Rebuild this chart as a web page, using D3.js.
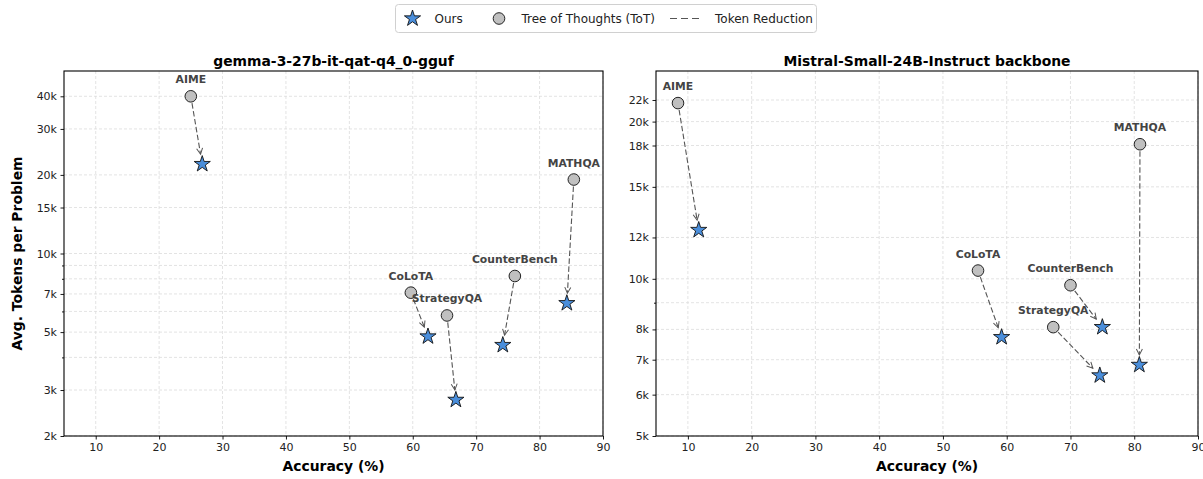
<!DOCTYPE html>
<html>
<head>
<meta charset="utf-8">
<script src="https://cdn.jsdelivr.net/npm/d3@7/dist/d3.min.js"></script>
<style>
  body { margin: 0; background: #fff; }
  svg { display: block; font-family: "DejaVu Sans", sans-serif; }
</style>
</head>
<body>
<svg id="chart" width="1203" height="479"></svg>
<script>
// ---------- Data ----------
const datasets = ["AIME", "MATHQA", "CounterBench", "CoLoTA", "StrategyQA"];

// gemma-3-27b-it-qat-q4_0-gguf
const gemmaTotAcc    = [25.0, 85.4, 76.1, 59.7, 65.4];
const gemmaTotTokens = [40000, 19200, 8200, 7080, 5790];
const gemmaOursAcc    = [26.8, 84.3, 74.2, 62.4, 66.8];
const gemmaOursTokens = [22000, 6450, 4460, 4810, 2750];

// Mistral-Small-24B-Instruct backbone
const mistralTotAcc    = [8.45, 80.9, 70.0, 55.5, 67.3];
const mistralTotTokens = [21700, 18100, 9720, 10370, 8080];
const mistralOursAcc    = [11.7, 80.8, 75.0, 59.2, 74.6];
const mistralOursTokens = [12400, 6840, 8080, 7730, 6530];

const xTicks = [10, 20, 30, 40, 50, 60, 70, 80, 90];
const gemmaYTicks = [2000, 3000, 5000, 7000, 10000, 15000, 20000, 30000, 40000];
const gemmaYMinor = [4000, 6000, 8000, 9000];
const gemmaYLabels = ["2k", "3k", "5k", "7k", "10k", "15k", "20k", "30k", "40k"];
const mistralYTicks = [5000, 6000, 7000, 8000, 10000, 12000, 15000, 18000, 20000, 22000];
const mistralYMinor = [9000];
const mistralYLabels = ["5k", "6k", "7k", "8k", "10k", "12k", "15k", "18k", "20k", "22k"];

const panels = [
  { title: "gemma-3-27b-it-qat-q4_0-gguf", x0: 64, x1: 603, yDomain: [2000, 50000],
    totAcc: gemmaTotAcc, totTok: gemmaTotTokens, oursAcc: gemmaOursAcc, oursTok: gemmaOursTokens,
    yTicks: gemmaYTicks, yMinor: gemmaYMinor, yLabels: gemmaYLabels, ylabel: true },
  { title: "Mistral-Small-24B-Instruct backbone", x0: 656, x1: 1198, yDomain: [5000, 25000],
    totAcc: mistralTotAcc, totTok: mistralTotTokens, oursAcc: mistralOursAcc, oursTok: mistralOursTokens,
    yTicks: mistralYTicks, yMinor: mistralYMinor, yLabels: mistralYLabels, ylabel: false }
];

// ---------- Style ----------
const plotTop = 71, plotBottom = 436;
const starFill = "#4a8edb";
const circleFill = "#c0c0c0";
const arrowColor = "#555";

const svg = d3.select("#chart");

function starPath(R) {
  const r = R * 0.382;
  const pts = [];
  for (let i = 0; i < 10; i++) {
    const a = -Math.PI / 2 + i * Math.PI / 5;
    const rad = i % 2 === 0 ? R : r;
    pts.push([rad * Math.cos(a), rad * Math.sin(a)]);
  }
  return "M" + pts.map(p => p[0].toFixed(2) + "," + p[1].toFixed(2)).join("L") + "Z";
}

const defs = svg.append("defs");
defs.append("marker")
  .attr("id", "arrowhead")
  .attr("viewBox", "-10 -6 12 12")
  .attr("refX", 0).attr("refY", 0)
  .attr("markerWidth", 12).attr("markerHeight", 12)
  .attr("markerUnits", "userSpaceOnUse")
  .attr("orient", "auto")
  .append("path")
  .attr("d", "M-6,-3L0,0L-6,3")
  .attr("fill", "none")
  .attr("stroke", arrowColor)
  .attr("stroke-width", 1);

panels.forEach(p => {
  const x = d3.scaleLinear().domain([5, 90]).range([p.x0, p.x1]);
  const y = d3.scaleLog().domain(p.yDomain).range([plotBottom, plotTop]);
  const g = svg.append("g");

  // grid
  g.append("g").selectAll("line").data(xTicks).join("line")
    .attr("x1", d => x(d)).attr("x2", d => x(d)).attr("y1", plotTop).attr("y2", plotBottom)
    .attr("stroke", "#dcdcdc").attr("stroke-width", 0.8).attr("stroke-dasharray", "3,2");
  g.append("g").selectAll("line").data(p.yTicks.concat(p.yMinor)).join("line")
    .attr("x1", p.x0).attr("x2", p.x1).attr("y1", d => y(d)).attr("y2", d => y(d))
    .attr("stroke", "#dcdcdc").attr("stroke-width", 0.8).attr("stroke-dasharray", "3,2");

  // axes
  const xAxis = d3.axisBottom(x).tickValues(xTicks).tickSize(3.5).tickPadding(3.5).tickFormat(d3.format("d"));
  const gx = g.append("g").attr("transform", `translate(0,${plotBottom})`).call(xAxis);
  const yAxis = d3.axisLeft(y).tickValues(p.yTicks).tickSize(3.5).tickPadding(3.5)
    .tickFormat((d, i) => p.yLabels[i]);
  const gy = g.append("g").attr("transform", `translate(${p.x0},0)`).call(yAxis);
  const yMinorAxis = d3.axisLeft(y).tickValues(p.yMinor).tickSize(2).tickFormat("");
  const gym = g.append("g").attr("transform", `translate(${p.x0},0)`).call(yMinorAxis);
  [gx, gy, gym].forEach(a => {
    a.select(".domain").remove();
    a.selectAll("text").attr("font-size", "11px").attr("fill", "#222")
      .attr("font-family", "DejaVu Sans, sans-serif");
    a.selectAll("line").attr("stroke", "#000").attr("stroke-width", 0.9);
  });

  // frame
  g.append("rect").attr("x", p.x0).attr("y", plotTop).attr("width", p.x1 - p.x0).attr("height", plotBottom - plotTop)
    .attr("fill", "none").attr("stroke", "#000").attr("stroke-width", 1.1);

  // title
  g.append("text").attr("x", (p.x0 + p.x1) / 2).attr("y", 66).attr("text-anchor", "middle")
    .attr("font-size", "13.9px").attr("font-weight", "bold").text(p.title);

  // x label
  g.append("text").attr("x", (p.x0 + p.x1) / 2).attr("y", 471).attr("text-anchor", "middle")
    .attr("font-size", "13.9px").attr("font-weight", "bold").text("Accuracy (%)");

  if (p.ylabel) {
    g.append("text").attr("transform", `translate(22,${(plotTop + plotBottom) / 2}) rotate(-90)`)
      .attr("text-anchor", "middle").attr("font-size", "13.9px").attr("font-weight", "bold")
      .text("Avg. Tokens per Problem");
  }

  const pts = datasets.map((name, i) => ({
    name,
    tx: x(p.totAcc[i]), ty: y(p.totTok[i]),
    ox: x(p.oursAcc[i]), oy: y(p.oursTok[i])
  }));

  // arrows
  g.append("g").selectAll("line").data(pts).join("line")
    .each(function(d) {
      const dx = d.ox - d.tx, dy = d.oy - d.ty;
      const L = Math.sqrt(dx * dx + dy * dy);
      const ux = dx / L, uy = dy / L;
      const sA = 7, sB = 10;
      d3.select(this)
        .attr("x1", d.tx + ux * sA).attr("y1", d.ty + uy * sA)
        .attr("x2", d.ox - ux * sB).attr("y2", d.oy - uy * sB);
    })
    .attr("stroke", arrowColor).attr("stroke-width", 1.1)
    .attr("stroke-dasharray", "5.5,2.5")
    .attr("marker-end", "url(#arrowhead)");

  // ToT circles
  g.append("g").selectAll("circle").data(pts).join("circle")
    .attr("cx", d => d.tx).attr("cy", d => d.ty).attr("r", 5.8)
    .attr("fill", circleFill).attr("stroke", "#222").attr("stroke-width", 1);

  // Ours stars
  g.append("g").selectAll("path").data(pts).join("path")
    .attr("transform", d => `translate(${d.ox},${d.oy})`)
    .attr("d", starPath(8.5))
    .attr("fill", starFill).attr("stroke", "#111").attr("stroke-width", 0.9)
    .attr("stroke-linejoin", "miter");

  // labels
  g.append("g").selectAll("text").data(pts).join("text")
    .attr("x", d => d.tx).attr("y", d => d.ty - 13)
    .attr("text-anchor", "middle").attr("font-size", "10.8px").attr("font-weight", "bold")
    .attr("fill", "#444").text(d => d.name);
});

// ---------- Legend ----------
const legend = svg.append("g");
legend.append("rect").attr("x", 395.5).attr("y", 4.5).attr("width", 421).attr("height", 28).attr("rx", 3)
  .attr("fill", "#fff").attr("stroke", "#d0d0d0").attr("stroke-width", 1);
legend.append("path").attr("transform", "translate(412.5,18.5)").attr("d", starPath(8.5))
  .attr("fill", starFill).attr("stroke", "#111").attr("stroke-width", 0.9);
legend.append("text").attr("x", 434.5).attr("y", 23).attr("font-size", "12px").attr("fill", "#222").text("Ours");
legend.append("circle").attr("cx", 499).attr("cy", 18.5).attr("r", 5.8)
  .attr("fill", circleFill).attr("stroke", "#222").attr("stroke-width", 1);
legend.append("text").attr("x", 521.5).attr("y", 23).attr("font-size", "12px").attr("fill", "#222").text("Tree of Thoughts (ToT)");
legend.append("line").attr("x1", 670).attr("x2", 700).attr("y1", 18.5).attr("y2", 18.5)
  .attr("stroke", arrowColor).attr("stroke-width", 1.1).attr("stroke-dasharray", "7,4");
legend.append("text").attr("x", 715).attr("y", 23).attr("font-size", "12px").attr("fill", "#222").text("Token Reduction");
</script>
</body>
</html>
